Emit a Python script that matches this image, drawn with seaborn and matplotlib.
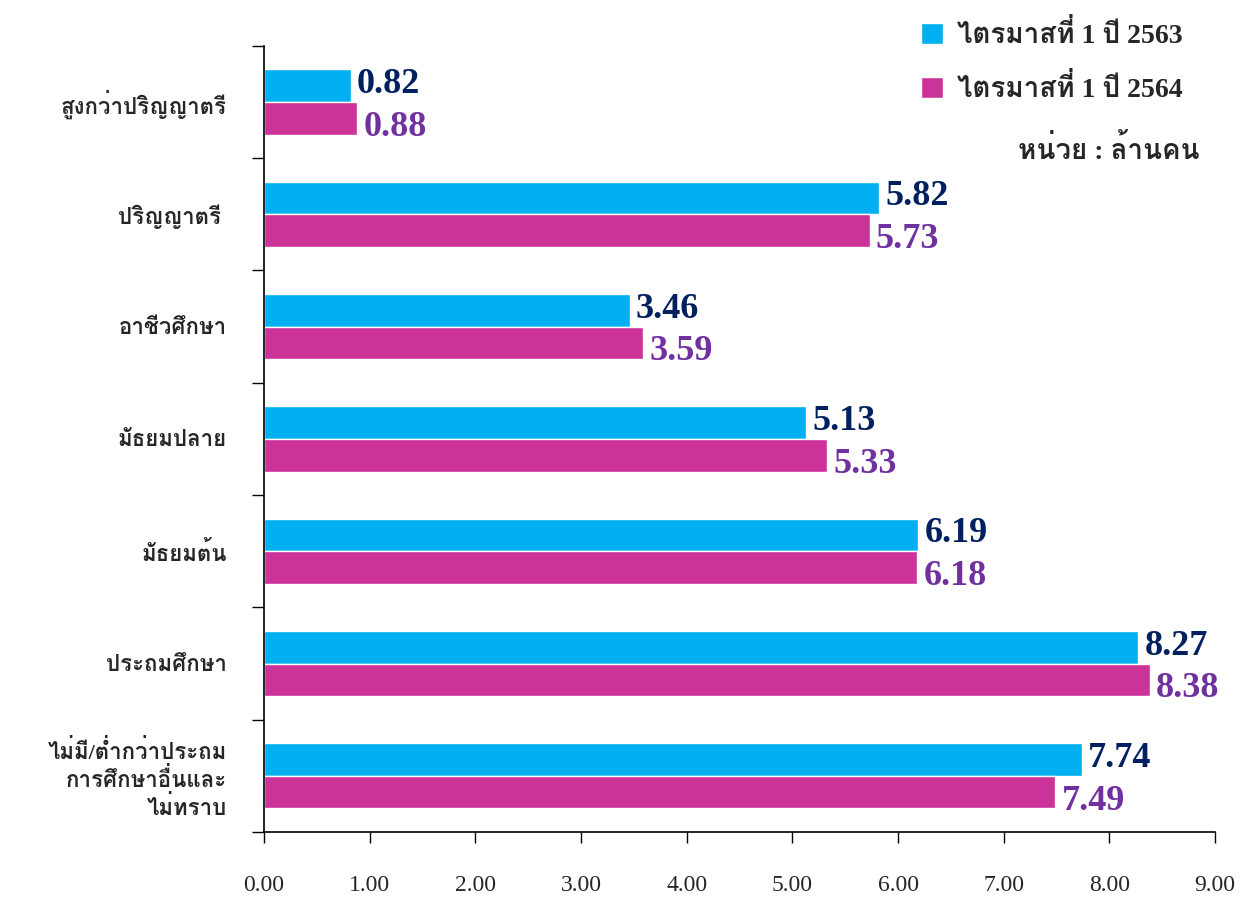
import pandas as pd
import matplotlib.pyplot as plt
import seaborn as sns
from matplotlib import font_manager
from matplotlib.ft2font import FT2Font

# ==========================================
# 1. DATA
# ==========================================
categories = ['สูงกว่าปริญญาตรี', 'ปริญญาตรี ', 'อาชีวศึกษา', 'มัธยมปลาย',
              'มัธยมต้น', 'ประถมศึกษา', 'ไม่มี/ต่ำกว่าประถม\nการศึกษาอื่นและ\nไม่ทราบ']
series_names = ['ไตรมาสที่ 1 ปี 2563', 'ไตรมาสที่ 1 ปี 2564']
q1_2563 = [0.82, 5.82, 3.46, 5.13, 6.19, 8.27, 7.74]
q1_2564 = [0.88, 5.73, 3.59, 5.33, 6.18, 8.38, 7.49]
x_ticks = [0, 1, 2, 3, 4, 5, 6, 7, 8, 9]
unit_text = 'หน่วย : ล้านคน'

df = pd.DataFrame({
    'cat': categories * 2,
    'value': q1_2563 + q1_2564,
    'series': [series_names[0]] * len(categories) + [series_names[1]] * len(categories),
})

# ==========================================
# 2. FONTS (find something that can draw Thai)
# ==========================================
thai_fams = []
for f in font_manager.fontManager.ttflist:
    try:
        if FT2Font(f.fname).get_char_index(0x0E01) and f.name not in thai_fams:
            thai_fams.append(f.name)
    except Exception:
        pass

sns.set_style('white')
plt.rcParams['font.family'] = ['Liberation Serif'] + thai_fams + ['DejaVu Sans']

# ==========================================
# 3. PLOT
# ==========================================
fig = plt.figure(figsize=(12.42, 8.99), dpi=100)
ax = fig.add_axes([0.2126, 0.0745, 0.7657, 0.8745])

colors = ['#00B0F0', '#CC3399']
sns.barplot(data=df, y='cat', x='value', hue='series', orient='h',
            palette=colors, width=0.58, gap=0, saturation=1,
            errorbar=None, ax=ax, legend=True)

# value labels
label_colors = ['#002060', '#7030A0']
for container, vals, col, dy in zip(ax.containers, [q1_2563, q1_2564], label_colors, [-0.01, 0.08]):
    for bar, v in zip(container, vals):
        yc = bar.get_y() + bar.get_height() / 2 + dy
        ax.text(v + 0.06, yc, f'{v:.2f}', ha='left', va='center',
                fontsize=26, fontweight='bold', color=col)

ax.set_xlim(0, 9)
ax.set_ylim(len(categories) - 0.5, -0.5)
ax.set_xticks(x_ticks)
ax.set_xticklabels([f'{t:.2f}' for t in x_ticks], fontsize=17)
ax.tick_params(axis='x', length=8, width=1, direction='out', pad=23, color='black', bottom=True)
ax.set_yticks(range(len(categories)))
ax.set_yticklabels(categories, fontsize=16, fontweight='bold')
ax.tick_params(axis='y', length=0, pad=27)
ax.set_yticks([i - 0.5 for i in range(len(categories) + 1)], minor=True)
ax.tick_params(axis='y', which='minor', length=9, width=1, color='black', left=True)
for lbl in ax.get_yticklabels():
    lbl.set_multialignment('right')

ax.set_xlabel('')
ax.set_ylabel('')
sns.despine(ax=ax, top=True, right=True)
for s in ['left', 'bottom']:
    ax.spines[s].set_color('black')
    ax.spines[s].set_linewidth(1.2)

ax.legend(loc='upper right', bbox_to_anchor=(0.961, 0.99), bbox_transform=fig.transFigure,
          borderaxespad=0, frameon=False, prop={'weight': 'bold', 'size': 20},
          handlelength=0.8, handleheight=0.8, handletextpad=0.5, labelspacing=0.9)
fig.text(0.966, 0.833, unit_text, ha='right', va='center', fontsize=20, fontweight='bold')

fig.savefig('out.png', dpi=100)
